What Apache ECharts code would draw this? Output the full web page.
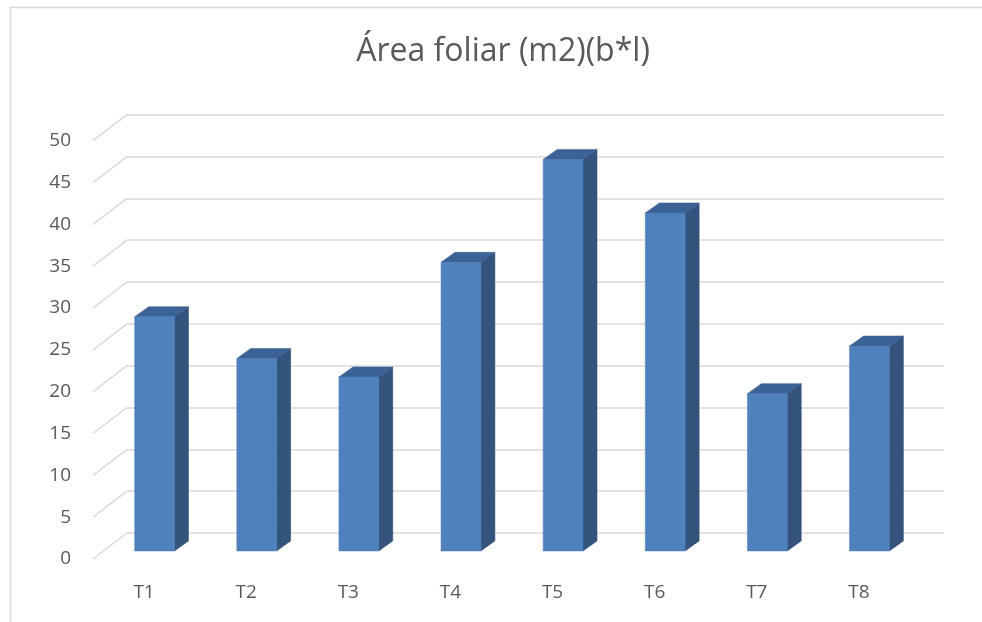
<!DOCTYPE html>
<html>
<head>
<meta charset="utf-8">
<script src="https://cdn.jsdelivr.net/npm/echarts@6/dist/echarts.min.js"></script>
<style>
  html, body { margin: 0; padding: 0; background: #fff; }
  #chart { width: 982px; height: 622px; }
</style>
</head>
<body>
<div id="chart"></div>
<script>
const categories = ['T1', 'T2', 'T3', 'T4', 'T5', 'T6', 'T7', 'T8']
const areaValues = [28, 23, 20.8, 34.5, 46.8, 40.4, 18.8, 24.5]
const yTicks = [0, 5, 10, 15, 20, 25, 30, 35, 40, 45, 50]

// 3d look: shift from front plane to back wall
const wallDx = 34
const wallDy = -26
const barDepth = 0.31   // where the bar front sits between front and back
const sideDx = 14
const sideDy = -10

const chart = echarts.init(document.getElementById('chart'))
const textColor = '#595959'
const gridColor = '#d9d9d9'
const font = 'Open Sans'

const option = {
  animation: false,
  title: {
    text: 'Área foliar (m2)(b*l)',
    left: 498,
    textAlign: 'center',
    top: 31,
    textStyle: { color: textColor, fontSize: 32, fontWeight: 'normal', fontFamily: font }
  },
  graphic: [{
    type: 'rect',
    shape: { x: 10.5, y: 7.5, width: 1000, height: 700 },
    style: { fill: 'none', stroke: '#d9d9d9', lineWidth: 1.5 },
    silent: true
  }],
  grid: [
    // front plane (labels, bars)
    { left: 93, right: 72, top: 140.7, bottom: 63 },
    // back wall (gridlines)
    { left: 127, right: 38, top: 114.7, bottom: 89 }
  ],
  xAxis: [
    {
      gridIndex: 0, type: 'category', data: categories,
      axisLine: { show: false }, axisTick: { show: false },
      axisLabel: { color: textColor, fontSize: 19, fontFamily: font, margin: 24 }
    },
    {
      gridIndex: 1, type: 'category', data: categories,
      axisLine: { show: false }, axisTick: { show: false }, axisLabel: { show: false }
    }
  ],
  yAxis: [
    {
      gridIndex: 0, type: 'value', min: 0, max: 50, interval: 5,
      axisLine: { show: false }, axisTick: { show: false }, splitLine: { show: false },
      axisLabel: { color: textColor, fontSize: 19, fontFamily: font, margin: 22 }
    },
    {
      gridIndex: 1, type: 'value', min: 0, max: 50, interval: 5,
      axisLine: { show: false }, axisTick: { show: false }, axisLabel: { show: false },
      splitLine: { show: true, lineStyle: { color: gridColor, width: 1.5 } }
    }
  ],
  series: [
    {
      // diagonal side-wall gridlines
      type: 'custom',
      xAxisIndex: 0, yAxisIndex: 0,
      silent: true,
      data: yTicks.map(v => [0, v]),
      renderItem: (params, api) => {
        const x0 = params.coordSys.x
        const y = api.coord([0, api.value(1)])[1]
        return {
          type: 'line',
          shape: { x1: x0, y1: y, x2: x0 + wallDx, y2: y + wallDy },
          style: { stroke: gridColor, lineWidth: 1.5 }
        }
      }
    },
    {
      type: 'custom',
      xAxisIndex: 0, yAxisIndex: 0,
      data: areaValues.map((v, i) => [i, v]),
      renderItem: (params, api) => {
        const base = api.coord([api.value(0), 0])
        const top = api.coord([api.value(0), api.value(1)])
        const w = api.size([1, 0])[0] * 0.39
        const cx = base[0] + wallDx * barDepth
        const y0 = base[1] + wallDy * barDepth
        const y1 = top[1] + wallDy * barDepth
        const l = cx - w / 2
        const r = cx + w / 2
        return {
          type: 'group',
          children: [
            {
              type: 'polygon',
              shape: { points: [[r, y1], [r + sideDx, y1 + sideDy], [r + sideDx, y0 + sideDy], [r, y0]] },
              style: { fill: '#34547e', stroke: '#2f4b72', lineWidth: 0.5 }
            },
            {
              type: 'polygon',
              shape: { points: [[l, y1], [l + sideDx, y1 + sideDy], [r + sideDx, y1 + sideDy], [r, y1]] },
              style: { fill: '#3c6396', stroke: '#365a88', lineWidth: 0.5 }
            },
            {
              type: 'rect',
              shape: { x: l, y: y1, width: w, height: y0 - y1 },
              style: { fill: '#4f81bd', stroke: '#4a79b2', lineWidth: 0.5 }
            }
          ]
        }
      }
    }
  ]
}

chart.setOption(option)
</script>
</body>
</html>
